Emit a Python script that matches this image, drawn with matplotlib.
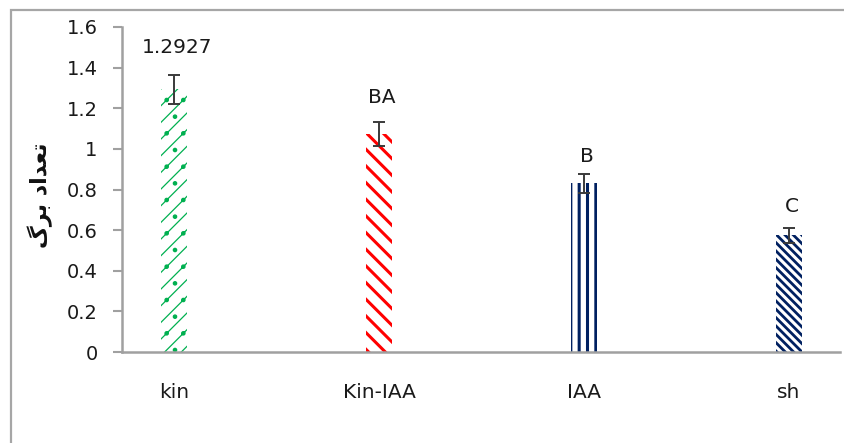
import matplotlib
matplotlib.use("Agg")
import matplotlib.pyplot as plt
from matplotlib.patches import Rectangle

# Leaf count per treatment
treatments = ["kin", "Kin-IAA", "IAA", "sh"]
leaf_count = [1.2927, 1.072, 0.83, 0.574]
leaf_err = [0.071, 0.058, 0.045, 0.035]
group_labels = ["1.2927", "BA", "B", "C"]

# Bar styling
bar_colors = ["#00B050", "#FF0000", "#002060", "#002060"]
bar_hatches = ["//.", "\\\\", "||", "\\\\\\\\"]
hatch_widths = [0.9, 2.2, 2.2, 2.0]
label_offsets = [13, 11, 6, 8.5]   # points above the error bar

plt.rcParams["font.family"] = ["DejaVu Sans"]

fig = plt.figure(figsize=(8.45, 4.43), dpi=100)
ax = fig.add_axes([122 / 845, 91 / 443, (840 - 122) / 845, (416 - 91) / 443])

x = list(range(len(treatments)))
for i in x:
    with plt.rc_context({"hatch.linewidth": hatch_widths[i]}):
        bars = ax.bar(i, leaf_count[i], width=0.127, facecolor="white",
                      edgecolor=bar_colors[i], linewidth=0, hatch=bar_hatches[i])
    for b in bars:
        if hasattr(b, "set_hatch_linewidth"):
            b.set_hatch_linewidth(hatch_widths[i])

ax.errorbar(x, leaf_count, yerr=leaf_err, fmt="none", ecolor="#3a3a3a",
            elinewidth=1.4, capsize=4.5, capthick=1.4)

for i in x:
    ax.annotate(group_labels[i], (i, leaf_count[i] + leaf_err[i]),
                xytext=(2, label_offsets[i]), textcoords="offset points",
                ha="center", va="bottom", fontsize=14.5, color="#1a1a1a")

ax.set_xlim(-0.256, 3.251)
ax.set_ylim(0, 1.6)
ax.set_yticks([0, 0.2, 0.4, 0.6, 0.8, 1.0, 1.2, 1.4, 1.6])
ax.set_yticklabels(["0", "0.2", "0.4", "0.6", "0.8", "1", "1.2", "1.4", "1.6"])
ax.set_xticks(x)
ax.set_xticklabels(treatments)

ax.tick_params(axis="y", direction="out", length=6.5, width=1.5, color="#a0a0a0",
               pad=11, labelsize=14, labelcolor="#1a1a1a")
ax.tick_params(axis="x", length=0, pad=22, labelsize=14.5, labelcolor="#1a1a1a")

for side in ["top", "right"]:
    ax.spines[side].set_visible(False)
for side in ["left", "bottom"]:
    ax.spines[side].set_color("#a0a0a0")
    ax.spines[side].set_linewidth(1.8)

# Persian axis title, written in presentation forms so the glyphs join
fig.text(40 / 845, 1 - 195 / 443, "\uFB92\uFEAE\uFE91 \uFEA9\uFE8D\uFEAA\uFECC\uFE97",
         rotation=90, ha="center", va="center", fontsize=16, fontweight="bold",
         color="#111111")

# Chart area frame
fig.patches.append(Rectangle((11 / 845, -0.1), 1.1, 1 - 10 / 443 + 0.1,
                             transform=fig.transFigure, fill=False,
                             edgecolor="#a6a6a6", linewidth=1.6))

fig.savefig("out.png", dpi=100)
